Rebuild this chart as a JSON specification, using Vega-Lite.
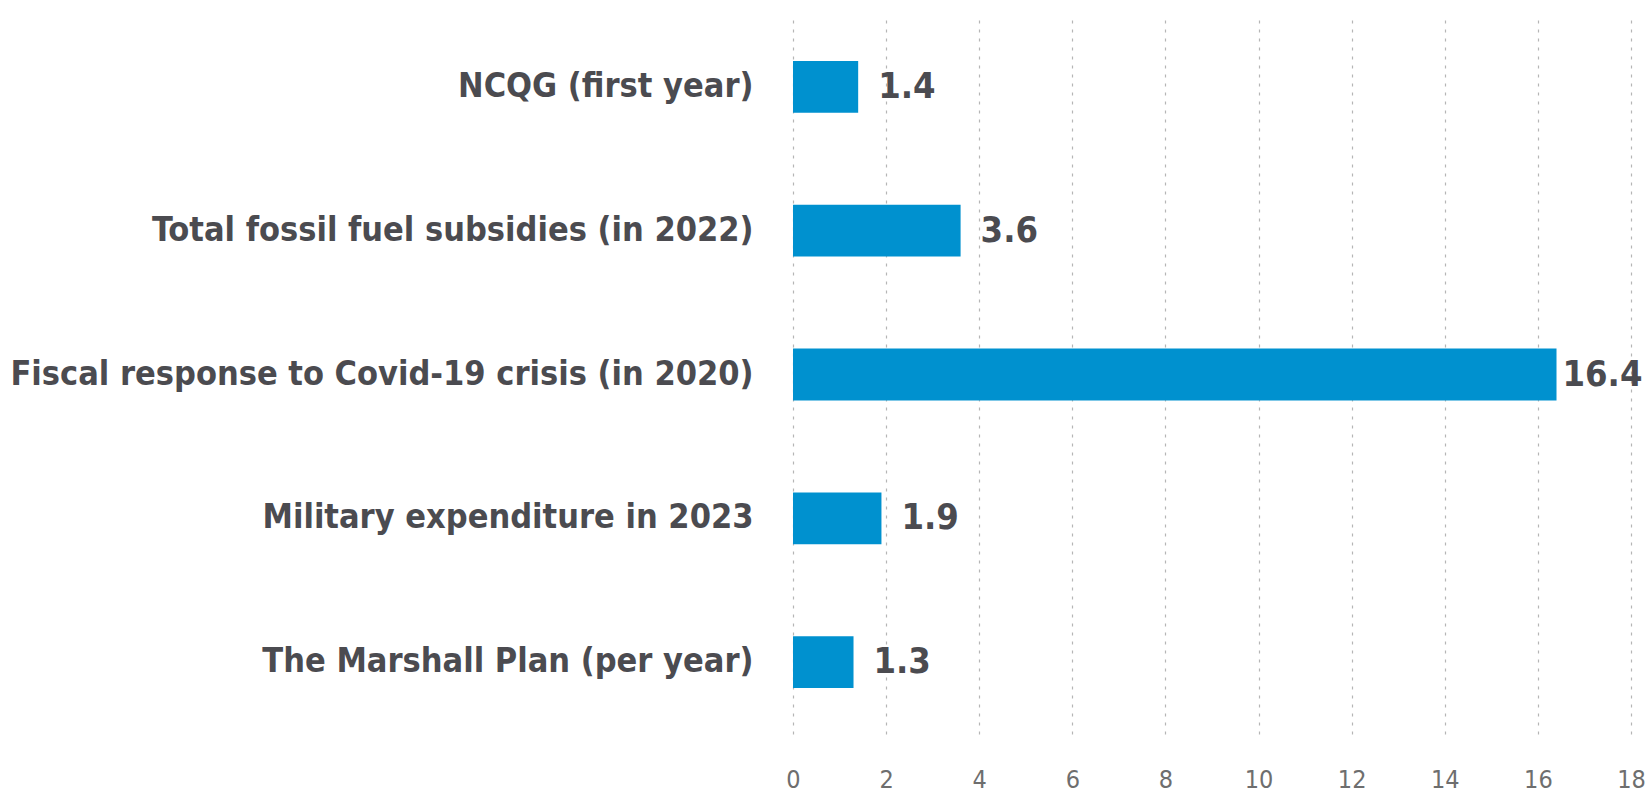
{
  "$schema": "https://vega.github.io/schema/vega-lite/v6.json",
  "autosize": "none",
  "width": 838,
  "height": 719,
  "padding": {"left": 793, "top": 15, "right": 16, "bottom": 58},
  "background": "white",
  "config": {"view": {"stroke": null}, "font": "DejaVu Sans Condensed"},
  "data": {"values": [
    {"item": "NCQG (first year)", "value": 1.4},
    {"item": "Total fossil fuel subsidies (in 2022)", "value": 3.6},
    {"item": "Fiscal response to Covid-19 crisis (in 2020)", "value": 16.4},
    {"item": "Military expenditure in 2023", "value": 1.9},
    {"item": "The Marshall Plan (per year)", "value": 1.3}
  ]},
  "encoding": {
    "y": {"field": "item", "type": "nominal", "sort": null,
      "scale": {"paddingInner": 0.64, "paddingOuter": 0.32},
      "axis": {"title": null, "domain": false, "ticks": false, "labelPadding": 40,
        "labelFont": "DejaVu Sans Condensed", "labelFontWeight": "bold", "labelFontSize": 34,
        "labelColor": "#4b4b50", "labelLimit": 900}},
    "x": {"field": "value", "type": "quantitative",
      "scale": {"domain": [0, 18], "nice": false},
      "axis": {"title": null, "values": [0,2,4,6,8,10,12,14,16,18], "domain": false, "ticks": false,
        "grid": true, "gridColor": "#b5b5b5", "gridDash": [3, 6], "gridWidth": 1.2,
        "labelPadding": 33, "labelFontSize": 25, "labelColor": "#6e6e6e",
        "labelFont": "DejaVu Sans Condensed", "labelBaseline": "top", "labelFlush": false}}
  },
  "layer": [
    {"mark": {"type": "bar", "color": "#0091cf"}},
    {"transform": [{"filter": "datum.value < 10"}],
     "mark": {"type": "text", "align": "left", "dx": 20, "font": "DejaVu Sans Condensed", "fontWeight": "bold", "fontSize": 36, "color": "#4b4b50"},
     "encoding": {"text": {"field": "value", "type": "quantitative", "format": ".1f"}}},
    {"transform": [{"filter": "datum.value >= 10"}],
     "mark": {"type": "text", "align": "left", "dx": 6, "font": "DejaVu Sans Condensed", "fontWeight": "bold", "fontSize": 36, "color": "#4b4b50"},
     "encoding": {"text": {"field": "value", "type": "quantitative", "format": ".1f"}}}
  ]
}
